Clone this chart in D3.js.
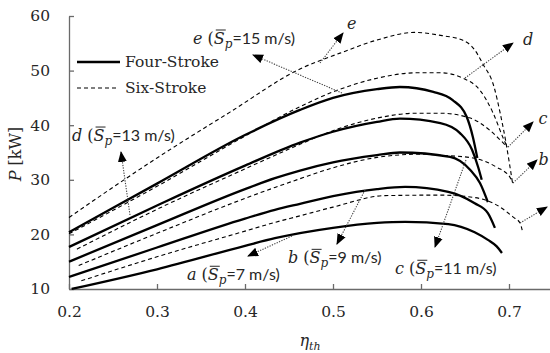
<!DOCTYPE html>
<html><head><meta charset="utf-8">
<script src="https://cdn.jsdelivr.net/npm/d3@7"></script>
<style>
html,body{margin:0;padding:0;background:#fff;}
svg{display:block;}
</style></head>
<body>
<svg id="chart" width="550" height="353"></svg>
<script>
// ---- data (η_th, P [kW]) ----
const xTicks = [0.2, 0.3, 0.4, 0.5, 0.6, 0.7];
const yTicks = [10, 20, 30, 40, 50, 60];

const fourStrokeA = [[0.203,10],[0.3,13.6],[0.4,17.9],[0.434,19.3],[0.5,21.2],[0.55,22.1],[0.582,22.3],[0.631,21.9],[0.661,20.4],[0.676,19],[0.686,17.8],[0.692,16.6]];
const fourStrokeB = [[0.2,12.2],[0.3,17.6],[0.4,22.9],[0.434,24.5],[0.4625,25.6],[0.5,27],[0.55,28.3],[0.582,28.7],[0.631,27.8],[0.661,25.7],[0.676,23.9],[0.684,21.2]];
const fourStrokeC = [[0.2,15],[0.3,21.7],[0.4,28.3],[0.434,30.3],[0.4625,31.7],[0.5,33.2],[0.55,34.5],[0.576,35],[0.633,34.2],[0.656,31.8],[0.667,29.4],[0.676,25.9]];
const fourStrokeD = [[0.2,17.7],[0.3,25.3],[0.4,32.6],[0.4625,36.8],[0.5,38.8],[0.55,40.6],[0.576,41.2],[0.622,40.4],[0.644,38.6],[0.658,35.5],[0.665,32.3],[0.669,30]];
const fourStrokeE = [[0.2,20.4],[0.3,29.3],[0.4,38.2],[0.4625,42.8],[0.5,45],[0.55,46.6],[0.576,47],[0.614,46.1],[0.636,44.6],[0.652,41.5],[0.659,37.8],[0.664,34]];

const sixStrokeA = [[0.214,11.5],[0.3,15.9],[0.4,20.6],[0.434,22.2],[0.4625,23.4],[0.5,25],[0.559,27.1],[0.622,27.2],[0.659,26.8],[0.69,25],[0.7045,23.2],[0.7125,22.1],[0.715,20.8]];
const sixStrokeB = [[0.211,14.3],[0.3,20.2],[0.4,26.6],[0.434,28.6],[0.4625,30.2],[0.5,32.2],[0.55,34.1],[0.6,34.7],[0.622,34.5],[0.659,34],[0.686,32.3],[0.701,30.5],[0.7045,29.4]];
const sixStrokeC = [[0.209,17.3],[0.3,24.6],[0.4,32],[0.4625,36.5],[0.5,39],[0.55,41.3],[0.595,42.2],[0.622,42.2],[0.656,41.3],[0.678,39.1],[0.69,37.3],[0.698,36]];
const sixStrokeD = [[0.2,20.1],[0.3,28.8],[0.4,38],[0.4625,43.4],[0.5,46.1],[0.55,48.6],[0.595,49.6],[0.622,49.6],[0.648,48.6],[0.667,46.4],[0.682,42.2],[0.693,37.8],[0.698,36]];
const sixStrokeE = [[0.2,23.1],[0.3,34],[0.383,42.4],[0.4625,50.3],[0.508,53.2],[0.55,55.6],[0.593,57],[0.624,56.4],[0.647,55.6],[0.661,53.8],[0.67,51.3],[0.683,47],[0.69,42.2],[0.696,37.3],[0.7,33.5],[0.704,29.4]];

const legendLabels = ["Four-Stroke", "Six-Stroke"];

// annotation arrows: [from η, from P, to η, to P]
const arrows = [
  [0.5102,45.9,0.4091,52.86],
  [0.4852,51.39,0.5114,56.89],
  [0.2693,23.55,0.2591,35.09],
  [0.65,48.64,0.7045,55.05],
  [0.4534,19.71,0.4034,16.04],
  [0.5364,28.13,0.5045,18.24],
  [0.6511,33.63,0.6159,17.69],
  [0.6989,36.0,0.7273,40.59],
  [0.7045,29.41,0.7318,33.63],
  [0.7125,22.09,0.7432,25.02]
];
// speed labels: [η, P, letter, speed]
const speedLabels = [
  [0.3409,54.87,"e","15"],
  [0.2034,37.1,"d","13"],
  [0.334,11.6,"a","7"],
  [0.4489,14.7,"b","9"],
  [0.5705,12.7,"c","11"]
];
const endLabels = [
  [0.5159,57.6,"e"],
  [0.7159,54.7,"d"],
  [0.7335,40.2,"c"],
  [0.7335,32.7,"b"]
];

// ---- drawing ----
const svg = d3.select("#chart");
const x = d3.scaleLinear().domain([0.2, 0.75]).range([69, 553]);
const y = d3.scaleLinear().domain([10, 60]).range([289, 16]);
const serif = "'DejaVu Serif', serif";
const sans = "Lato, 'Open Sans', sans-serif";
const axisCol = "#6a6a6a";
const textCol = "#262626";

// axes
const xAxis = svg.append("g").attr("transform","translate(0,289)")
  .call(d3.axisBottom(x).tickValues(xTicks).tickFormat(d3.format(".1f")).tickSizeInner(-5).tickSizeOuter(0).tickPadding(17));
const yAxis = svg.append("g").attr("transform","translate(69,0)")
  .call(d3.axisLeft(y).tickValues(yTicks).tickFormat(d3.format("d")).tickSizeInner(-5).tickSizeOuter(0).tickPadding(19));
[xAxis, yAxis].forEach(g => {
  g.select(".domain").attr("stroke", axisCol).attr("stroke-width", 1.3);
  g.selectAll(".tick line").attr("stroke", axisCol).attr("stroke-width", 1.3);
  g.selectAll(".tick text").attr("fill", textCol).style("font-family", serif).style("font-size","15.5px");
});

// curves
const line = d3.line().x(d => x(d[0])).y(d => y(d[1])).curve(d3.curveMonotoneX);
const four = [fourStrokeA, fourStrokeB, fourStrokeC, fourStrokeD, fourStrokeE];
const six = [sixStrokeA, sixStrokeB, sixStrokeC, sixStrokeD, sixStrokeE];
svg.append("g").selectAll("path").data(six).join("path")
  .attr("d", line).attr("fill","none").attr("stroke","#000").attr("stroke-width",1.1)
  .attr("stroke-dasharray","4,3");
svg.append("g").selectAll("path").data(four).join("path")
  .attr("d", line).attr("fill","none").attr("stroke","#000").attr("stroke-width",2.3);

// arrows
const defs = svg.append("defs");
defs.append("marker").attr("id","ah").attr("markerUnits","userSpaceOnUse")
  .attr("markerWidth",11).attr("markerHeight",10).attr("refX",10).attr("refY",5)
  .attr("orient","auto").attr("viewBox","0 0 11 10")
  .append("path").attr("d","M0,0.5 L11,5 L0,9.5 Z").attr("fill","#000");
svg.append("g").selectAll("line").data(arrows).join("line")
  .attr("x1", d => x(d[0])).attr("y1", d => y(d[1]))
  .attr("x2", d => x(d[2])).attr("y2", d => y(d[3]))
  .attr("stroke","#444").attr("stroke-width",1.1).attr("stroke-dasharray","1.3,1.3")
  .attr("marker-end","url(#ah)");

// speed labels
speedLabels.forEach(([ex, py, letter, sp]) => {
  const t = svg.append("text").attr("x", x(ex)).attr("y", y(py))
    .attr("fill", textCol).style("font-size","16px");
  t.append("tspan").style("font-family", serif).style("font-style","italic").text(letter);
  t.append("tspan").style("font-family", serif).text(" (");
  t.append("tspan").style("font-family", serif).style("font-style","italic").text("S");
  t.append("tspan").style("font-family", serif).style("font-style","italic").style("font-size","12px").attr("dy",4).text("p");
  t.append("tspan").style("font-family", sans).attr("dy",-4).text("=" + sp + " m/s)");
  const idx = letter.length + 2;
  const ext = t.node().getExtentOfChar(idx);
  svg.append("line").attr("x1", ext.x + 2).attr("x2", ext.x + ext.width + 1)
    .attr("y1", ext.y + 1).attr("y2", ext.y + 1).attr("stroke", textCol).attr("stroke-width",1);
});
endLabels.forEach(([ex, py, letter]) => {
  svg.append("text").attr("x", x(ex)).attr("y", y(py)).attr("fill", textCol)
    .style("font-family", serif).style("font-style","italic").style("font-size","16px").text(letter);
});

// legend
const leg = svg.append("g");
[0,1].forEach(i => {
  const ly = 62 + i * 26;
  leg.append("line").attr("x1",77).attr("x2", i === 0 ? 120 : 116).attr("y1",ly).attr("y2",ly)
    .attr("stroke","#000").attr("stroke-width", i === 0 ? 2.3 : 1.1)
    .attr("stroke-dasharray", i === 0 ? null : "4,3");
  leg.append("text").attr("x",125).attr("y",ly).attr("dy","0.35em").attr("fill",textCol)
    .style("font-family", serif).style("font-size","15.5px").text(legendLabels[i]);
});

// axis titles
const yt = svg.append("text").attr("transform","translate(21,154) rotate(-90)")
  .attr("text-anchor","middle").attr("fill",textCol).style("font-family",serif).style("font-size","16px");
yt.append("tspan").style("font-style","italic").text("P");
yt.append("tspan").text(" [kW]");
const xt = svg.append("text").attr("x",310).attr("y",346).attr("text-anchor","middle")
  .attr("fill",textCol).style("font-family",serif).style("font-size","16px");
xt.append("tspan").style("font-style","italic").text("η");
xt.append("tspan").style("font-style","italic").style("font-size","11px").attr("dy",4).text("th");
</script>
</body></html>
